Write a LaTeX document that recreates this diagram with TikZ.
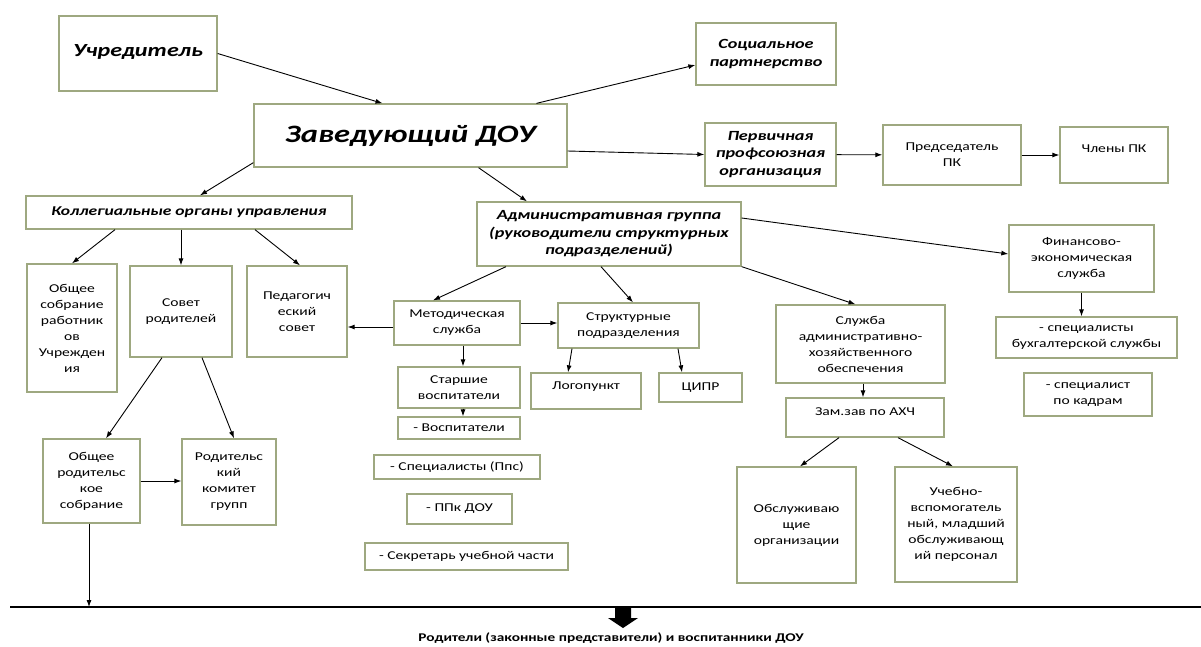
\documentclass[tikz,border=0pt]{standalone}
\usepackage{fontspec}
\setmainfont{Carlito}[FakeStretch=1.3]
\usetikzlibrary{arrows.meta}
\definecolor{boxline}{RGB}{158,168,128}

\begin{document}
\begin{tikzpicture}[x=1pt,y=-1pt,
    plain box/.style={draw=boxline,line width=1.3pt,align=center,inner sep=0pt,font=\fontsize{12}{16}\selectfont},
    main box/.style={plain box,font=\bfseries\itshape\fontsize{14}{17.5}\selectfont},
    wh/.style 2 args={minimum width=#1pt,minimum height=#2pt},
    raised/.style={text depth=#1pt},
    arr/.style={-{Latex[length=7pt,width=5pt]},line width=0.9pt}]
\useasboundingbox[fill=white] (0,0) rectangle (1201,646);

\node[main box, wh={158}{75}, raised=7, font=\bfseries\itshape\fontsize{18.5}{22}\selectfont] at (138,53.5) (uch) {Учредитель};
\node[main box, wh={313}{63}, font=\bfseries\itshape\fontsize{25}{30}\selectfont] at (410.5,135.5) (zav) {Заведующий ДОУ};
\node[main box, wh={140}{62}] at (766,54) (soc) {Социальное\\партнерство};
\node[main box, wh={131}{63}] at (770.5,154.5) (perv) {Первичная\\профсоюзная\\организация};
\node[plain box, wh={138}{60}] at (952,155) (pred) {Председатель\\ПК};
\node[plain box, wh={108}{56}, raised=12] at (1114,155) (chl) {Члены ПК};

\node[main box, wh={326}{33}, font=\bfseries\itshape\fontsize{13.5}{17}\selectfont] at (189,212.5) (kol) {Коллегиальные органы управления};
\node[main box, wh={264}{64}] at (609,234) (adm) {Административная группа\\(руководители структурных\\подразделений)};
\node[plain box, wh={145}{67}] at (1081.5,258.5) (fin) {Финансово-\\экономическая\\служба};
\node[plain box, wh={181}{41}] at (1086.5,337.5) (buh) {- специалисты\\бухгалтерской службы};
\node[plain box, wh={128}{43}] at (1088,394.5) (kadr) {- специалист\\по кадрам};

\node[plain box, wh={90}{128}] at (72,328) (sobr) {Общее\\собрание\\работник\\ов\\Учрежден\\ия};
\node[plain box, wh={102}{91}] at (181,311.5) (sov) {Совет\\родителей};
\node[plain box, wh={100}{91}] at (297,311.5) (ped) {Педагогич\\еский\\совет};
\node[plain box, wh={97}{84}] at (91.5,481) (obrod) {Общее\\родительс\\кое\\собрание};
\node[plain box, wh={94}{86}] at (229,482) (rodk) {Родительс\\кий\\комитет\\групп};

\node[plain box, wh={126}{44}] at (457,323) (met) {Методическая\\служба};
\node[plain box, wh={141}{45}] at (628.5,325.5) (str) {Структурные\\подразделения};
\node[plain box, wh={122}{41}] at (459,387.5) (star) {Старшие\\воспитатели};
\node[plain box, wh={122}{22}] at (459,428) (vosp) {- Воспитатели};
\node[plain box, wh={166}{24}] at (457,467) (spec) {- Специалисты (Ппс)};
\node[plain box, wh={105}{30}] at (459.5,509) (ppk) {- ППк ДОУ};
\node[plain box, wh={203}{27}] at (466.5,556.5) (sekr) {- Секретарь учебной части};
\node[plain box, wh={110}{36}, raised=11] at (586,391) (logo) {Логопункт};
\node[plain box, wh={83}{29}] at (700.5,387.5) (cipr) {ЦИПР};

\node[plain box, wh={169}{78}] at (860.5,344) (aho) {Служба\\административно-\\хозяйственного\\обеспечения};
\node[plain box, wh={158}{39}, raised=11] at (865,417.5) (zam) {Зам.зав по АХЧ};
\node[plain box, wh={119}{116}] at (796.5,525) (obsl) {Обслуживаю\\щие\\организации};
\node[plain box, wh={122}{115}] at (956,524.5) (uchv) {Учебно-\\вспомогатель\\ный, младший\\обслуживающ\\ий персонал};

\coordinate (lineL) at (10,607);
\coordinate (lineR) at (1201,607);
\coordinate (drop) at (623,607);
\node[font=\bfseries\fontsize{11.8}{14}\selectfont] at (611,638) (parents) {Родители (законные представители) и воспитанники ДОУ};

\path[arr] (uch.east) edge ([xshift=-28pt]zav.north);
\path[arr] ([yshift=5pt]zav.south west) edge ([xshift=11pt]kol.north);
\path[arr] ([xshift=68pt]zav.south) edge ([xshift=-82pt]adm.north);
\path[arr] ([xshift=126pt]zav.north) edge ([yshift=-11pt]soc.west);
\path[arr] ([yshift=-15.5pt]zav.east) edge (perv.west);
\path[arr] (perv) edge (pred);
\path[arr] (pred) edge (chl);
\path[arr] ([yshift=16pt]adm.east) edge ([yshift=4.5pt]fin.west);
\path[arr] (fin.south) edge (fin.south |- buh.north);

\path[arr] ([xshift=-74pt]kol.south) edge (sobr.north);
\path[arr] ([xshift=-8pt]kol.south) edge (sov.north);
\path[arr] ([xshift=66pt]kol.south) edge ([xshift=3pt]ped.north);
\path[arr] ([xshift=-19pt]sov.south) edge ([xshift=14.5pt]obrod.north);
\path[arr] ([xshift=21pt]sov.south) edge ([xshift=5pt]rodk.north);
\path[arr] (obrod.east) edge (obrod.east -| rodk.west);
\path[arr] ([xshift=-2.5pt]obrod.south) edge ([xshift=-2.5pt]obrod.south |- lineL);

\path[arr] ([xshift=-103pt]adm.south) edge ([xshift=-24pt]met.north);
\path[arr] ([xshift=-8pt]adm.south) edge ([xshift=4.5pt]str.north);
\path[arr] (adm.south east) edge ([xshift=-5pt]aho.north);
\path[arr] ([yshift=-4pt]met.west) edge ([yshift=-4pt]met.west -| ped.east);
\path[arr] (met.east) edge (met.east -| str.west);
\path[arr] ([xshift=6pt]met.south) edge ([xshift=6pt]met.south |- star.north);
\path[arr] ([xshift=4pt]star.south) edge ([xshift=4pt]star.south |- vosp.north);
\path[arr] ([xshift=-56.5pt]str.south) edge ([xshift=-18pt]logo.north);
\path[arr] ([xshift=49.5pt]str.south) edge ([xshift=-18.5pt]cipr.north);

\path[arr] ([xshift=2.5pt]aho.south) edge ([xshift=2.5pt]aho.south |- zam.north);
\path[arr] ([xshift=-26pt]zam.south) edge ([xshift=3.5pt]obsl.north);
\path[arr] ([xshift=33pt]zam.south) edge ([xshift=-3pt]uchv.north);

\draw[line width=1.2pt] (lineL) -- (lineR);
\fill (drop) ++(-8,0) -- ++(16,0) -- ++(0,11) -- ++(7,0) -- ++(-15,10) -- ++(-15,-10) -- ++(7,0) -- cycle;
\end{tikzpicture}
\end{document}
